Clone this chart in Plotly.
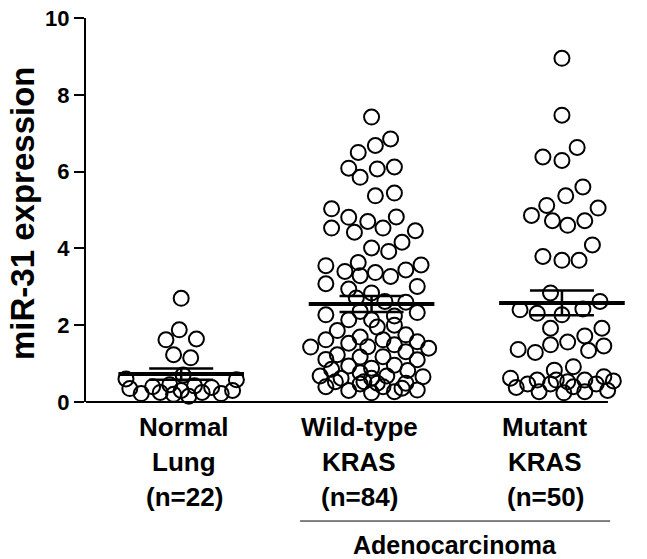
import numpy as np
import plotly.graph_objects as go

# ---------------- data ----------------
group_names_line1 = ["Normal", "Wild-type", "Mutant"]
group_names_line2 = ["Lung", "KRAS", "KRAS"]
group_n = ["(n=22)", "(n=84)", "(n=50)"]
bracket_label = "Adenocarcinoma"
y_title = "miR-31 expression"
y_ticks = [0, 2, 4, 6, 8, 10]

normal_vals = [2.70, 1.88, 1.62, 1.64, 1.23, 1.15, 0.60, 0.35, 0.22, 0.40, 0.25,
               0.45, 0.20, 0.70, 0.30, 0.15, 0.42, 0.25, 0.38, 0.22, 0.30, 0.58]
# horizontal beeswarm offset, percent of category spacing
normal_jit = [0, -1, -8, 8, -4, 5, -29, -27, -21, -15, -11,
              -6, -4, 1, 0, 4, 7, 11, 16, 21, 27, 29]

wt_vals = [7.42, 6.85, 6.68, 6.50, 6.09, 6.07, 6.12, 5.85, 5.37, 5.44,
           5.03, 4.81, 4.70, 4.82, 4.53, 4.42, 4.53, 4.46, 4.01, 3.92,
           4.16, 3.55, 3.63, 3.40, 3.29, 3.37, 3.27, 3.44, 3.57, 3.08,
           2.94, 3.01, 2.71, 2.84, 2.62, 2.60, 2.27, 2.33, 2.14, 2.36,
           2.14, 2.24, 1.95, 1.86, 1.75, 1.43, 1.62, 1.53, 1.69, 1.44,
           1.62, 1.49, 1.57, 1.40, 1.11, 1.23, 1.17, 1.18, 1.31, 1.10,
           0.94, 0.88, 0.96, 0.82, 0.68, 0.62, 0.76, 0.62, 0.68, 0.66,
           0.40, 0.53, 0.30, 0.47, 0.24, 0.40, 0.27, 0.49, 0.31, 0.53,
           0.49, 2.00, 0.85, 0.36]
wt_jit = [0, 10, 2, -7, -12, 3, 12, -6, 2, 12,
          -21, -12, -2, 13, -21, -9, 6, 23, 0, 9,
          16, -24, -7, -14, -6, 2, 10, 18, 26, -24,
          -12, 24, -8, 0, 7, 18, -24, 24, -12, -6,
          0, 12, 3, -18, 18, -32, -24, -12, -6, -2,
          6, 12, 24, 30, -24, -18, -6, 6, 18, 24,
          -12, 0, 12, 19, -27, -16, -6, 0, 8, 27,
          -24, -19, -12, -6, 0, 6, 12, 18, 24, -4,
          3, 12, -21, 16]

mut_vals = [8.95, 7.47, 6.38, 6.29, 6.63, 5.60, 5.37, 5.12, 4.86, 4.72,
            4.60, 4.72, 5.05, 4.09, 3.79, 3.69, 3.69, 2.84, 2.62, 2.40,
            2.31, 2.27, 2.42, 1.92, 1.92, 1.37, 1.29, 1.49, 1.56, 1.72,
            1.34, 1.46, 0.83, 0.92, 0.62, 0.38, 0.47, 0.57, 0.27, 0.47,
            0.57, 0.24, 0.53, 0.40, 0.57, 0.27, 0.47, 0.66, 0.30, 0.55]
mut_jit = [0, 0, -10, 0, 8, 11, 2, -8, -16, -5,
           3, 12, 19, 16, -10, 0, 9, -6, 20, -22,
           -13, 0, 11, -6, 21, -23, -14, -6, 3, 12,
           14, 22, -4, 6, -27, -24, -18, -13, -12, -6,
           -3, 1, 3, 6, 12, 12, 18, 22, 24, 27]

groups = [(normal_vals, normal_jit), (wt_vals, wt_jit), (mut_vals, mut_jit)]

# ---------------- figure ----------------
FONT = "Liberation Sans, Arial, sans-serif"
fig = go.Figure()

for i, (vals, jit) in enumerate(groups):
    pos = i + 1
    v = np.array(vals, dtype=float)
    x = pos + np.array(jit, dtype=float) / 100.0
    fig.add_trace(go.Scatter(
        x=x, y=v, mode="markers", cliponaxis=False, showlegend=False,
        hoverinfo="y",
        marker=dict(symbol="circle-open", size=15, color="black",
                    line=dict(width=2, color="black"))))

for i, (vals, jit) in enumerate(groups):
    pos = i + 1
    v = np.array(vals, dtype=float)
    m = v.mean()
    sem = v.std(ddof=1) / np.sqrt(len(v))
    fig.add_trace(go.Scatter(
        x=[pos - 0.33, pos + 0.33], y=[m, m], mode="lines", showlegend=False,
        line=dict(color="black", width=4), hoverinfo="skip"))
    fig.add_trace(go.Scatter(
        x=[pos], y=[m], mode="markers", showlegend=False, hoverinfo="skip",
        marker=dict(size=1, color="rgba(0,0,0,0)"),
        error_y=dict(type="data", array=[sem], symmetric=True, width=32,
                     thickness=2.5, color="black")))

annotations = []
label_pos = [1.015, 1.934, 2.911]
for row, (texts, shift) in enumerate([(group_names_line1, -25),
                                       (group_names_line2, -60),
                                       (group_n, -95)]):
    for xp, t in zip(label_pos, texts):
        annotations.append(dict(
            x=xp, xref="x", y=0, yref="paper", yshift=shift,
            xanchor="center", yanchor="middle", showarrow=False, text=t,
            font=dict(family=FONT, size=26, color="black", weight="bold")))

annotations.append(dict(
    x=0.681, xref="paper", y=0, yref="paper", yshift=-143,
    xanchor="center", yanchor="middle", showarrow=False, text=bracket_label,
    font=dict(family=FONT, size=25, color="black", weight="bold")))

annotations.append(dict(
    x=-0.116, xref="paper", y=0.49, yref="paper", textangle=-90,
    xanchor="center", yanchor="middle", showarrow=False, text=y_title,
    font=dict(family=FONT, size=33, color="black", weight="bold")))

shapes = [
    dict(type="line", xref="paper", yref="paper", x0=0, x1=0.963, y0=0, y1=0,
         line=dict(color="black", width=2)),
    dict(type="line", xref="paper", yref="paper", x0=0.395, x1=0.967,
         y0=-0.31, y1=-0.31, line=dict(color="black", width=1)),
]

fig.update_layout(
    width=647, height=559,
    margin=dict(l=86, r=19, t=18, b=157, autoexpand=False),
    paper_bgcolor="white", plot_bgcolor="white",
    showlegend=False,
    annotations=annotations, shapes=shapes,
    xaxis=dict(range=[0.5, 3.347], showline=False, showticklabels=False,
               ticks="", showgrid=False, zeroline=False, automargin=False),
    yaxis=dict(range=[0, 10], tickvals=y_ticks, ticks="outside", ticklen=10,
               tickwidth=2, tickcolor="black", showline=True, linewidth=2,
               linecolor="black", showgrid=False, zeroline=False,
               automargin=False, ticklabeloverflow="allow",
               tickfont=dict(family=FONT, size=22, color="black", weight="bold")),
)

# remove the browser's default 8px page margin so the figure fills the window
fig.write_html("out.html", config={"displayModeBar": False},
               post_script="document.body.style.margin='0';")
